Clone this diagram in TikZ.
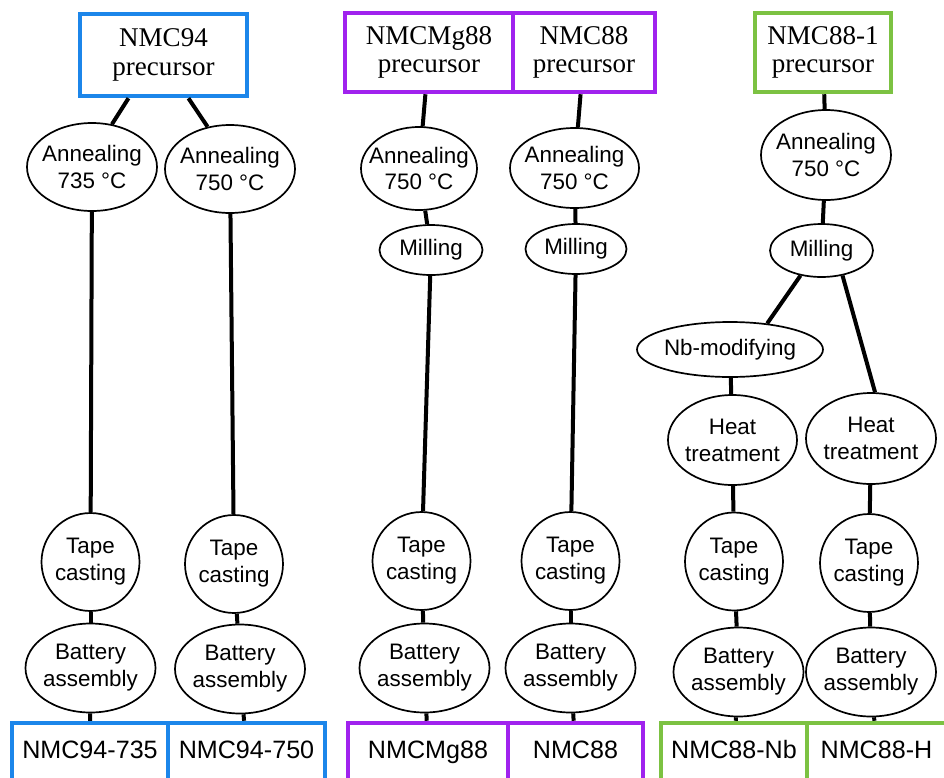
\documentclass[tikz,border=0pt]{standalone}
\usepackage{fontspec}
\setmainfont{Liberation Serif}
\setsansfont{Liberation Sans}
\usetikzlibrary{shapes.geometric}
\definecolor{nmcblue}{RGB}{28,134,234}
\definecolor{nmcpurple}{RGB}{160,34,238}
\definecolor{nmcgreen}{RGB}{124,194,66}

\begin{document}
\begin{tikzpicture}[x=0.02cm,y=-0.02cm,
% sizes are given in pixels of the original figure
wh/.style 2 args={minimum width=#1*0.02cm,minimum height=#2*0.02cm},
stage/.style={ellipse,draw,line width=0.034cm,inner sep=-1cm,align=center,
  font=\sffamily\fontsize{12.75}{15.3}\selectfont},
disc/.style={circle,draw,line width=0.034cm,inner sep=-1cm,align=center,
  minimum size=1.96cm,font=\sffamily\fontsize{12.75}{15.3}\selectfont},
srcbox/.style={rectangle,draw=#1,line width=0.09cm,inner sep=0pt,align=center,
  font=\rmfamily\fontsize{15.4}{16.2}\selectfont},
outbox/.style={rectangle,draw=#1,line width=0.09cm,inner sep=0pt,
  text height=0.72em,text depth=0pt,minimum height=1.16cm,
  font=\sffamily\fontsize{14.3}{17}\selectfont},
link/.style={line width=0.08cm}]

\useasboundingbox (0,0) rectangle (944,778);

% precursors
\node[srcbox=nmcblue,wh={167}{82}] (pre94) at (163.5,55) {NMC94\\precursor};
\node[srcbox=nmcpurple,wh={168}{79}] (preMg) at (429,52.5) {NMCMg88\\precursor};
\node[srcbox=nmcpurple,wh={142}{79}] (pre88) at (584,52.5) {NMC88\\precursor};
\node[srcbox=nmcgreen,wh={136}{79}] (pre881) at (823,52.5) {NMC88-1\\precursor};

% annealing and milling
\node[stage,wh={130}{88}] (ann735) at (92,167) {Annealing\\735 °C};
\node[stage,wh={130}{88}] (ann750a) at (230,169) {Annealing\\750 °C};
\node[stage,wh={116}{83}] (ann750b) at (419,168.5) {Annealing\\750 °C};
\node[stage,wh={129}{80}] (ann750c) at (574.5,168) {Annealing\\750 °C};
\node[stage,wh={130}{90}] (ann750d) at (826,155) {Annealing\\750 °C};
\node[stage,wh={103}{50}] (mill1) at (431,250) {Milling};
\node[stage,wh={101}{50}] (mill2) at (576,249) {Milling};
\node[stage,wh={103}{53}] (mill3) at (821.5,250.5) {Milling};
\node[stage,wh={186}{55}] (nbmod) at (730,349.5) {Nb-modifying};
\node[stage,wh={129}{90}] (heat1) at (732.5,440) {Heat\\treatment};
\node[stage,wh={130}{91}] (heat2) at (871,438.5) {Heat\\treatment};

% cells
\foreach \i/\x/\y in {1/90.5/562,2/234/564,3/421.5/561,4/570.5/561,5/734/561.5,6/869/563}
  \node[disc] (tape\i) at (\x,\y) {Tape\\casting};
\foreach \i/\x/\y in {1/90.5/668,2/240/669,3/424.5/668,4/570.5/668,5/738.5/672,6/871/672}
  \node[stage,wh={130}{89}] (bat\i) at (\x,\y) {Battery\\assembly};
\foreach \i/\x/\w/\c/\t in {1/90/156/nmcblue/NMC94-735,2/246.5/157/nmcblue/NMC94-750,
    3/428/160/nmcpurple/NMCMg88,4/575.5/135/nmcpurple/NMC88,
    5/734/146/nmcgreen/NMC88-Nb,6/876.5/139/nmcgreen/NMC88-H}
  \node[outbox=\c,minimum width=\w*0.02cm] (out\i) at (\x,752) {\t};

% connections
\draw[link] (pre94.231) -- (ann735.65);
\draw[link] (pre94.300) -- (ann750a.118);
\draw[link] (preMg) -- (ann750b);
\draw[link] (pre88) -- (ann750c);
\draw[link] (pre881) -- (ann750d);
\draw[link] (ann750b) -- (mill1);
\draw[link] (ann750c) -- (mill2);
\draw[link] (ann750d) -- (mill3);
\draw[link] (mill3.-130) -- (nbmod.35);
\draw[link] (mill3.-50) -- (heat2.85);
\draw[link] (nbmod) -- (heat1);
\draw[link] (ann735) -- (tape1);
\draw[link] (ann750a) -- (tape2);
\draw[link] (mill1) -- (tape3);
\draw[link] (mill2) -- (tape4);
\draw[link] (heat1) -- (tape5);
\draw[link] (heat2) -- (tape6);
\foreach \i in {1,...,6} {
  \draw[link] (tape\i) -- (bat\i);
  \draw[link] (bat\i) -- (out\i);
}
\end{tikzpicture}
\end{document}
